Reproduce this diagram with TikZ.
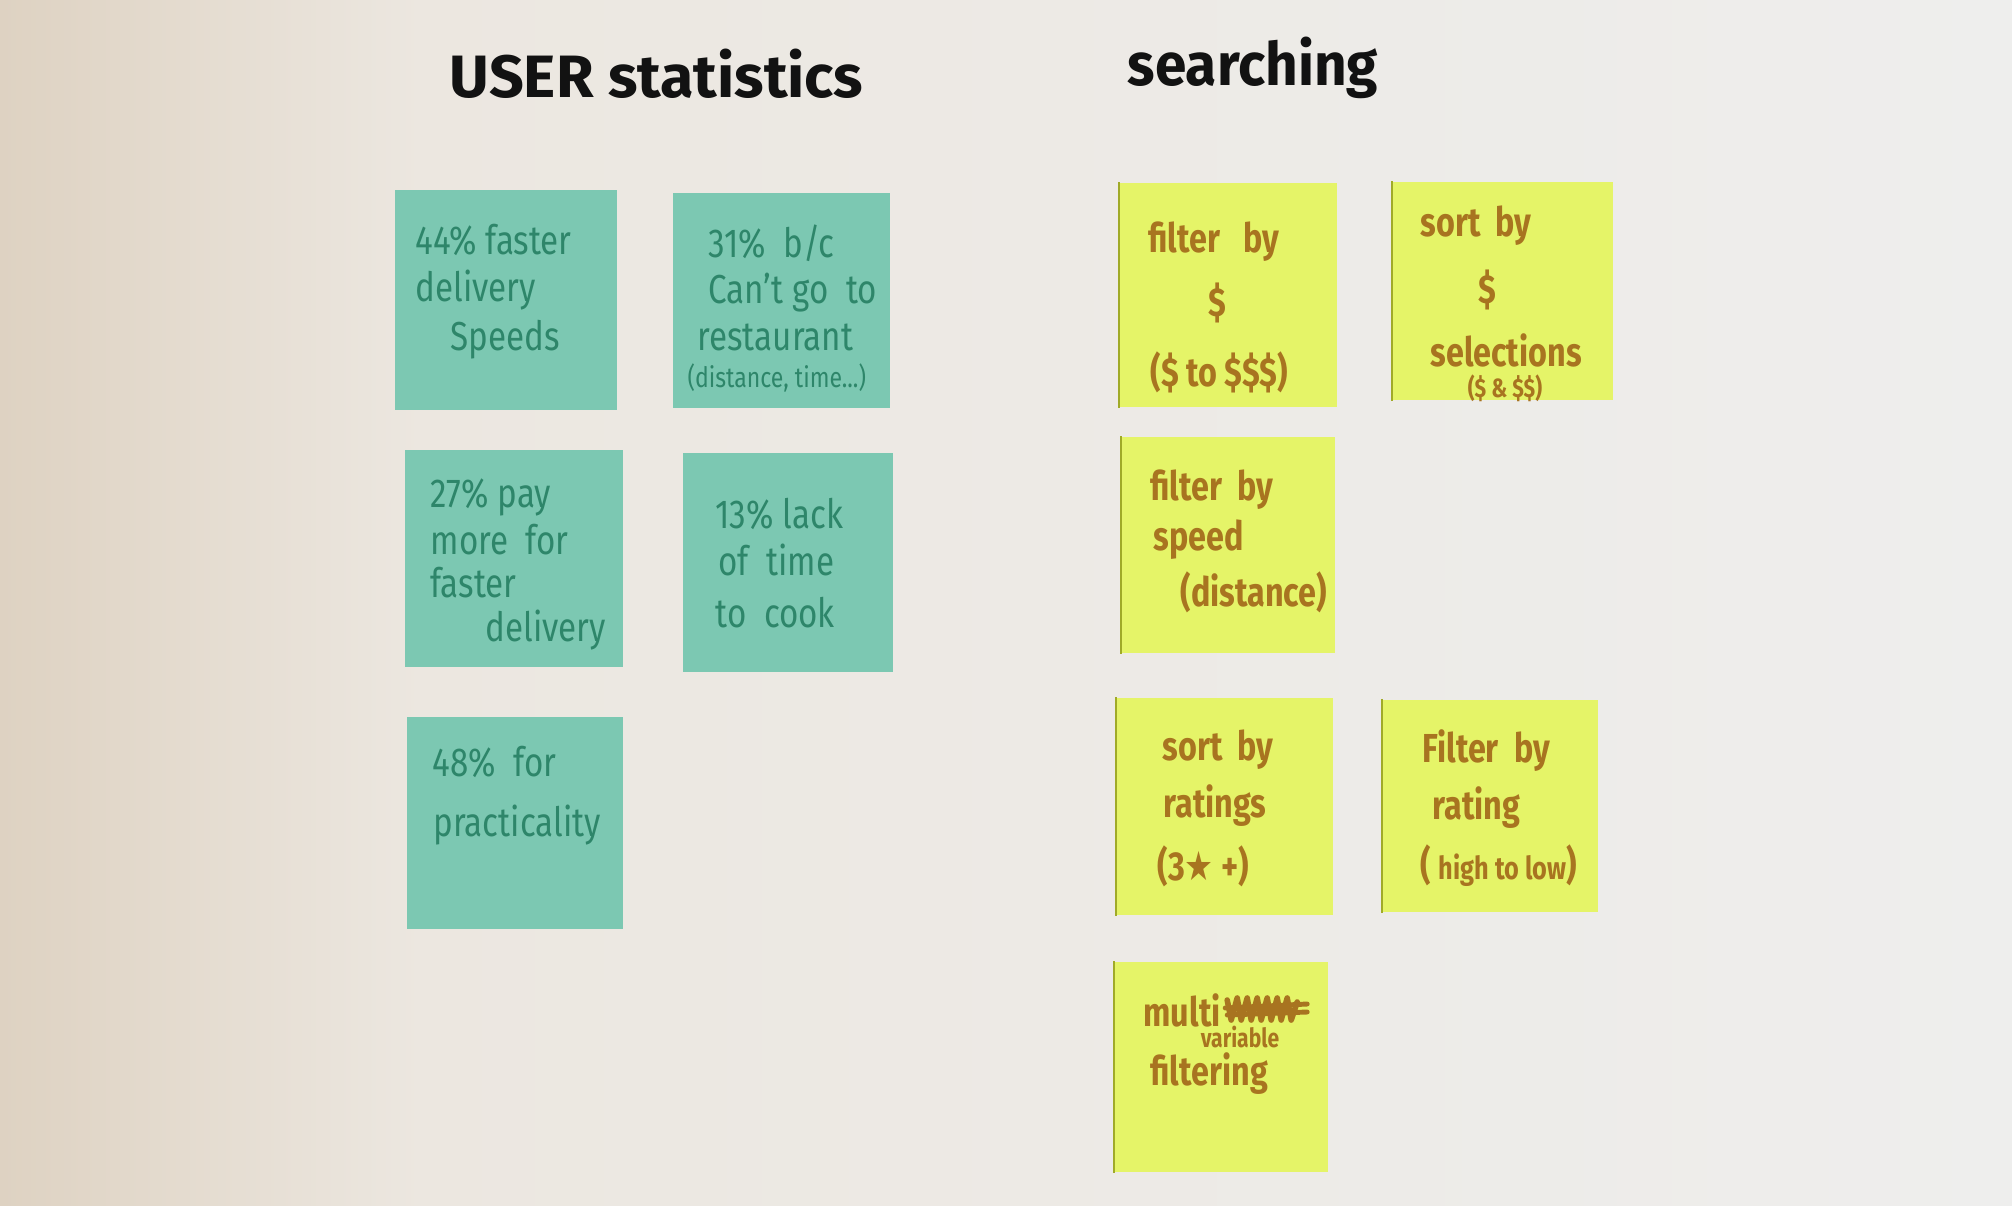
\documentclass[tikz,border=0pt]{standalone}
\usepackage{fontspec}
\usetikzlibrary{calc}
\setmainfont{Fira Sans}
\newfontfamily\symfont{DejaVu Sans}
\definecolor{wallL}{RGB}{222,210,194}
\definecolor{wallM}{RGB}{236,231,224}
\definecolor{wallR}{RGB}{238,238,237}
\definecolor{tealnote}{RGB}{124,200,178}
\definecolor{tealink}{RGB}{46,134,106}
\definecolor{limenote}{RGB}{229,244,104}
\definecolor{limeedge}{RGB}{160,170,40}
\definecolor{limeink}{RGB}{168,116,32}
\definecolor{titleink}{RGB}{18,18,18}
\tikzset{
  tnote/.style={fill=tealnote, inner sep=0pt},
  ynote/.style={fill=limenote, inner sep=0pt},
  tline/.style={anchor=west, inner sep=0pt, text=tealink, xscale=0.82, transform shape,
                font=\fontsize{11.5}{13}\selectfont},
  yline/.style={anchor=west, inner sep=0pt, text=limeink, xscale=0.8, transform shape,
                font=\fontsize{11.5}{13}\selectfont\bfseries},
  small/.style={font=\fontsize{8}{9}\selectfont},
  ysmall/.style={font=\fontsize{7.5}{9}\selectfont\bfseries},
  heading/.style={anchor=west, inner sep=0pt, text=titleink, transform shape,
                  font=\fontsize{17}{20}\selectfont\bfseries}
}
\begin{document}
\begin{tikzpicture}[x=0.01cm, y=-0.01cm]
% wall
\useasboundingbox (0,0) rectangle (2012,1206);
\shade[left color=wallL, right color=wallM] (0,0) rectangle (420,1206);
\shade[left color=wallM, right color=wallR] (420,0) rectangle (2012,1206);

% headings
\node[heading, xscale=1.02] (hUser) at (449,74) {USER statistics};
\node[heading, xscale=0.95] (hSearch) at (1127,68) {searching};

% user statistics notes
\node[tnote, minimum width=2.22cm, minimum height=2.20cm] (n1) at (506,300) {};
\node[tnote, minimum width=2.17cm, minimum height=2.15cm] (n2) at (781.5,300.5) {};
\node[tnote, minimum width=2.18cm, minimum height=2.17cm] (n3) at (514,558.5) {};
\node[tnote, minimum width=2.10cm, minimum height=2.19cm] (n4) at (788,562.5) {};
\node[tnote, minimum width=2.16cm, minimum height=2.12cm] (n5) at (515,823) {};

\node[tline] (n1a) at (415,240) {44\% faster};
\node[tline] (n1b) at (415,290) {delivery};
\node[tline] (n1c) at (450,340) {Speeds};

\node[tline] (n2a) at (708,243) {31\%\ \ b/c};
\node[tline] (n2b) at (708,293) {Can't go\ \ to};
\node[tline] (n2c) at (697,337) {restaurant};
\node[tline, small] (n2d) at (687,378) {(distance, time...)};

\node[tline] (n3a) at (430,497) {27\% pay};
\node[tline] (n3b) at (430,540) {more\ \ for};
\node[tline] (n3c) at (430,583) {faster};
\node[tline] (n3d) at (485,630) {delivery};

\node[tline] (n4a) at (715,514) {13\% lack};
\node[tline] (n4b) at (718,560) {of\ \ time};
\node[tline] (n4c) at (715,613) {to\ \ cook};

\node[tline] (n5a) at (432,762) {48\%\ \ for};
\node[tline] (n5b) at (433,825) {practicality};

% searching notes
\node[ynote, minimum width=2.17cm, minimum height=2.24cm] (y1) at (1228.5,295) {};
\node[ynote, minimum width=2.20cm, minimum height=2.18cm] (y2) at (1503,291) {};
\node[ynote, minimum width=2.13cm, minimum height=2.16cm] (y3) at (1228.5,545) {};
\node[ynote, minimum width=2.16cm, minimum height=2.17cm] (y4) at (1225,806.5) {};
\node[ynote, minimum width=2.15cm, minimum height=2.12cm] (y5) at (1490.5,806) {};
\node[ynote, minimum width=2.13cm, minimum height=2.10cm] (y6) at (1221.5,1067) {};
% glued edges of the lime notes
\foreach \n in {y1,y2,y3,y4,y5,y6}
  \draw[limeedge, line width=0.6pt] (\n.north west) -- (\n.south west);

\node[yline] (y1a) at (1148,242) {filter\ \ \ by};
\node[yline, anchor=center] (y1b) at (1217,303) {\$};
\node[yline] (y1c) at (1150,372) {(\$\ to\ \$\$\$)};

\node[yline] (y2a) at (1420,226) {sort\ \ by};
\node[yline, anchor=center] (y2b) at (1487,290) {\$};
\node[yline] (y2c) at (1430,350) {selections};
\node[yline, ysmall, anchor=center] (y2d) at (1505,388) {(\$ \& \$\$)};

\node[yline] (y3a) at (1150,490) {filter\ \ by};
\node[yline] (y3b) at (1153,540) {speed};
\node[yline] (y3c) at (1180,592) {(distance)};

\node[yline] (y4a) at (1162,750) {sort\ \ by};
\node[yline] (y4b) at (1163,806) {ratings};
\node[yline] (y4c) at (1157,866) {(3{\symfont★}\ +)};

\node[yline] (y5a) at (1422,751) {Filter\ \ by};
\node[yline] (y5b) at (1432,808) {rating};
\node[yline] (y5c) at (1420,866) {( {\small high to low})};

\node[yline] (y6a) at (1143,1010) {multi};
\node[yline, ysmall, anchor=center] (y6b) at (1240,1037) {variable};
\node[yline] (y6c) at (1150,1074) {filtering};
% crossed-out word after "multi"
\draw[limeink, line width=1.6pt, line cap=round, line join=round]
  ($(y6a.east)+(6,-10)$) -- ++(4,20) -- ++(6,-22) -- ++(4,22) -- ++(6,-22)
  -- ++(4,22) -- ++(6,-22) -- ++(4,22) -- ++(6,-22) -- ++(4,22) -- ++(6,-22)
  -- ++(4,22) -- ++(6,-22) -- ++(4,22) -- ++(6,-18);
\draw[limeink, line width=1.4pt, line cap=round]
  ($(y6a.east)+(4,-2)$) -- ++(82,-4)
  ($(y6a.east)+(6,5)$) -- ++(80,-3);
\end{tikzpicture}
\end{document}
